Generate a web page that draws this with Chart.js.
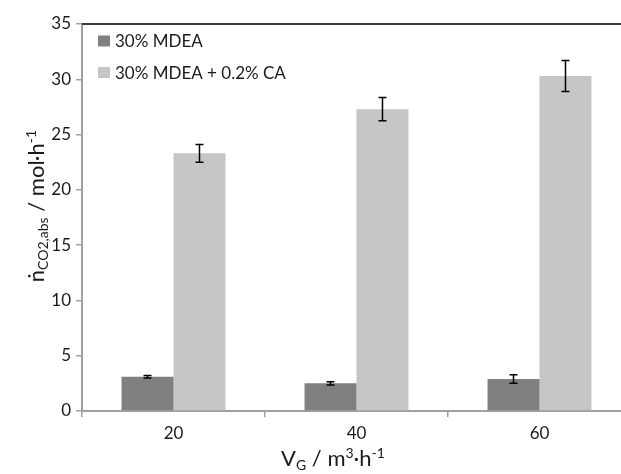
<!DOCTYPE html>
<html>
<head>
<meta charset="utf-8">
<script src="https://cdn.jsdelivr.net/npm/chart.js@4/dist/chart.umd.min.js"></script>
<style>
  html, body { margin: 0; padding: 0; background: #fff; overflow: hidden; }
  #wrap { width: 631px; height: 474px; }
</style>
</head>
<body>
<div id="wrap"><canvas id="chart"></canvas></div>
<script>
// Data
const categories = ['20', '40', '60'];
const seriesNames = ['30% MDEA', '30% MDEA + 0.2% CA'];
const mdea = [3.1, 2.5, 2.9];
const mdeaErr = [0.12, 0.15, 0.38];
const mdeaCa = [23.3, 27.3, 30.3];
const mdeaCaErr = [0.8, 1.05, 1.4];
const yTicks = [0, 5, 10, 15, 20, 25, 30, 35];

const FONT = 'Lato, "Open Sans", sans-serif';

// draw text pieces with sub/superscripts, centred on cx
function drawParts(ctx, parts, cx, by) {
  let total = 0;
  parts.forEach(p => {
    ctx.font = p[1] + 'px ' + FONT;
    total += ctx.measureText(p[0]).width;
  });
  let x = cx - total / 2;
  parts.forEach(p => {
    ctx.font = p[1] + 'px ' + FONT;
    ctx.fillText(p[0], x, by + p[2]);
    x += ctx.measureText(p[0]).width;
  });
}

// error bars, frame line, legend and axis titles
const extras = {
  id: 'extras',
  afterDatasetsDraw(chart) {
    const ctx = chart.ctx;
    const y = chart.scales.y;
    const area = chart.chartArea;
    const errs = [mdeaErr, mdeaCaErr];

    ctx.save();
    ctx.strokeStyle = '#000';
    ctx.lineWidth = 1.5;
    chart.data.datasets.forEach((ds, i) => {
      chart.getDatasetMeta(i).data.forEach((bar, j) => {
        const hi = y.getPixelForValue(ds.data[j] + errs[i][j]);
        const lo = y.getPixelForValue(ds.data[j] - errs[i][j]);
        ctx.beginPath();
        ctx.moveTo(bar.x, hi); ctx.lineTo(bar.x, lo);
        ctx.moveTo(bar.x - 4, hi); ctx.lineTo(bar.x + 4, hi);
        ctx.moveTo(bar.x - 4, lo); ctx.lineTo(bar.x + 4, lo);
        ctx.stroke();
      });
    });

    // top frame line
    ctx.strokeStyle = '#3a3a3a';
    ctx.lineWidth = 2;
    ctx.beginPath();
    ctx.moveTo(area.left, area.top);
    ctx.lineTo(area.right, area.top);
    ctx.stroke();

    // legend
    ctx.font = '17px ' + FONT;
    ctx.textBaseline = 'middle';
    ctx.textAlign = 'left';
    chart.data.datasets.forEach((ds, i) => {
      const ly = 41 + i * 31.5;
      ctx.fillStyle = ds.backgroundColor;
      ctx.fillRect(98, ly - 5.5, 12, 11);
      ctx.fillStyle = '#1a1a1a';
      ctx.fillText(ds.label, 115, ly + 1);
    });

    // axis titles
    ctx.fillStyle = '#1a1a1a';
    ctx.textBaseline = 'alphabetic';
    drawParts(ctx, [
      ['V', 22, 0], ['G', 14, 4], [' / m', 22, 0], ['3', 14, -8], ['·h', 22, 0], ['-1', 14, -8]
    ], 333, 466);

    ctx.translate(44, 0);
    ctx.rotate(-Math.PI / 2);
    drawParts(ctx, [
      ['\u1E45', 22, 0], ['CO2,abs', 14, 4], [' / mol·h', 22, 0], ['-1', 14, -8]
    ], -206, 0);
    ctx.restore();
  }
};

new Chart(document.getElementById('chart'), {
  type: 'bar',
  data: {
    labels: categories,
    datasets: [
      { label: seriesNames[0], data: mdea, backgroundColor: '#808080' },
      { label: seriesNames[1], data: mdeaCa, backgroundColor: '#c6c6c6' }
    ]
  },
  options: {
    responsive: true,
    maintainAspectRatio: false,
    animation: false,
    categoryPercentage: 0.568,
    barPercentage: 1,
    layout: { padding: { top: 24, right: 0, left: 0, bottom: 0 } },
    plugins: { legend: { display: false }, tooltip: { enabled: false } },
    scales: {
      x: {
        offset: true,
        afterFit: s => { s.height = 63; },
        grid: { offset: true, drawOnChartArea: false, drawTicks: true, tickLength: 6, color: '#a0a0a0', lineWidth: 1.5 },
        border: { color: '#a0a0a0', width: 2 },
        ticks: { color: '#1a1a1a', font: { family: FONT, size: 17 }, padding: 6 }
      },
      y: {
        min: 0,
        max: 35,
        afterFit: s => { s.width = 82; },
        afterBuildTicks: s => { s.ticks = yTicks.map(v => ({ value: v })); },
        grid: { drawOnChartArea: false, drawTicks: true, tickLength: 6, color: '#a0a0a0', lineWidth: 1.5 },
        border: { color: '#a0a0a0', width: 2 },
        ticks: { color: '#1a1a1a', font: { family: FONT, size: 17 }, padding: 5 }
      }
    }
  },
  plugins: [extras]
});
</script>
</body>
</html>
